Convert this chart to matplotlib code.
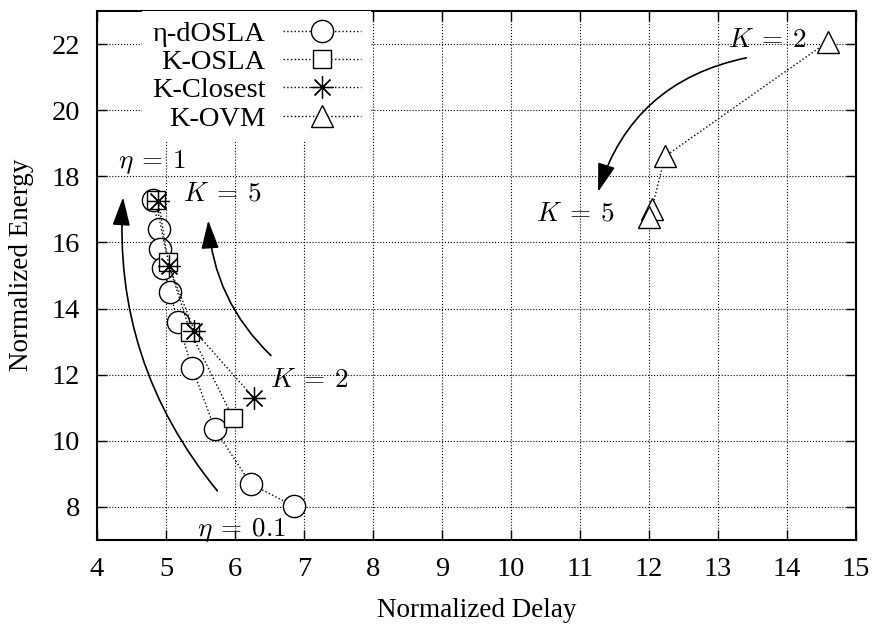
import matplotlib
matplotlib.use("Agg")
import matplotlib.pyplot as plt

plt.rcParams["font.family"] = ["Liberation Serif", "DejaVu Serif"]
plt.rcParams["mathtext.fontset"] = "cm"
plt.rcParams["font.size"] = 19.5

# Normalized delay / energy for each scheme
eta_delay = [4.81, 4.90, 4.92, 4.96, 5.06, 5.17, 5.38, 5.71, 6.23, 6.85]
eta_energy = [17.28, 16.42, 15.80, 15.23, 14.50, 13.60, 12.20, 10.35, 8.69, 8.03]

kosla_delay = [4.85, 5.03, 5.35, 5.97]
kosla_energy = [17.28, 15.40, 13.30, 10.70]

kclosest_delay = [4.89, 5.04, 5.41, 6.28]
kclosest_energy = [17.25, 15.30, 13.33, 11.28]

kovm_delay = [14.59, 12.23, 12.04, 12.00]
kovm_energy = [22.07, 18.60, 17.00, 16.77]

fig = plt.figure(figsize=(8.74, 6.25), dpi=100)
ax = fig.add_axes([0.111, 0.136, 0.8684, 0.8464])

ls = dict(color="black", linestyle=":", linewidth=1.0, markerfacecolor="white",
          markeredgecolor="black", markeredgewidth=1.0)
ax.plot(eta_delay, eta_energy, marker="o", markersize=16, label="η-dOSLA", **ls)
ax.plot(kosla_delay, kosla_energy, marker="s", markersize=12.5, label="K-OSLA", **ls)
ax.plot(kclosest_delay, kclosest_energy, marker=(8, 2, 0), markersize=16,
        markeredgewidth=0.9, label="K-Closest",
        **{k: v for k, v in ls.items() if k != "markeredgewidth"})
ax.plot(kovm_delay, kovm_energy, marker="^", markersize=16, label="K-OVM", **ls)

ax.set_xlim(4, 15)
ax.set_ylim(7, 23)
ax.set_xticks(range(4, 16))
ax.set_yticks(range(8, 23, 2))
ax.grid(True, color="black", linestyle=":", linewidth=0.8)
ax.set_axisbelow(True)
ax.tick_params(direction="in", length=7, width=1, top=True, right=True, pad=12,
               labelsize=20.5)
for s in ax.spines.values():
    s.set_linewidth(1.5)

ax.set_xlabel("Normalized Delay", labelpad=12)
ax.set_ylabel("Normalized Energy")
ax.yaxis.set_label_coords(-0.083, 0.52)

leg = ax.legend(loc="upper right", bbox_to_anchor=(0.361, 1.0), markerfirst=False,
                frameon=True, fancybox=False, edgecolor="none", framealpha=1.0,
                fontsize=20.5, handlelength=2.75, handletextpad=0.6,
                labelspacing=0.08, borderpad=0.35, borderaxespad=0.0)

# curved arrows and their labels
arrow = dict(arrowstyle="-|>,head_length=0.9,head_width=0.28", color="black", lw=1.2)
ax.annotate("", xy=(4.38, 17.45), xytext=(5.77, 8.42),
            arrowprops=dict(connectionstyle="arc3,rad=-0.2", **arrow))
ax.annotate("", xy=(5.61, 16.75), xytext=(6.55, 12.52),
            arrowprops=dict(connectionstyle="arc3,rad=-0.2", **arrow))
ax.annotate("", xy=(11.25, 17.45), xytext=(13.45, 21.6),
            arrowprops=dict(connectionstyle="arc3,rad=0.3", **arrow))

ax.text(4.8, 18.42, r"$\eta\:=\:1$", ha="center", va="center")
ax.text(6.09, 7.31, r"$\eta\:=\:0.1$", ha="center", va="center")
ax.text(5.81, 17.46, r"$K\:=\:5$", ha="center", va="center")
ax.text(7.07, 11.83, r"$K\:=\:2$", ha="center", va="center")
ax.text(13.72, 22.1, r"$K\:=\:2$", ha="center", va="center")
ax.text(10.93, 16.86, r"$K\:=\:5$", ha="center", va="center")

fig.savefig("out.png", dpi=100)
